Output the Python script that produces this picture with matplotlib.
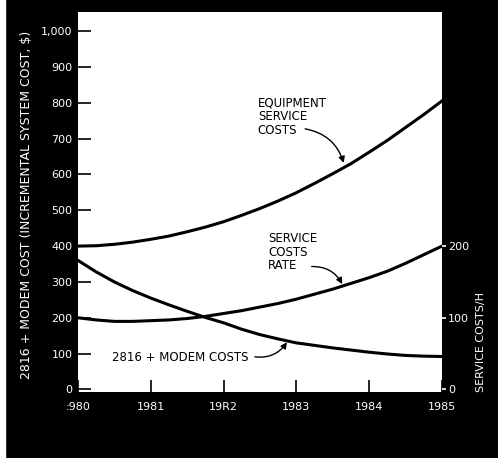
import matplotlib.pyplot as plt
import numpy as np

plt.rcParams['font.family'] = ['DejaVu Sans']

# values, every quarter year
years = [1980, 1980.25, 1980.5, 1980.75, 1981, 1981.25, 1981.5, 1981.75,
         1982, 1982.25, 1982.5, 1982.75, 1983, 1983.25, 1983.5, 1983.75,
         1984, 1984.25, 1984.5, 1984.75, 1985]
equipment_cost = [400, 401, 405, 411, 419, 428, 440, 453, 468, 486, 505,
                  526, 549, 575, 602, 630, 662, 695, 731, 767, 805]
modem_cost = [360, 328, 300, 276, 255, 236, 218, 201, 186, 168, 153,
              141, 130, 123, 116, 110, 104, 99, 95, 93, 92]
service_rate = [100, 97, 95, 95, 96, 97, 99, 102, 106, 110, 115,
                120, 126, 133, 140, 148, 156, 165, 176, 188, 200]  # right axis

year_ticks = [1980, 1981, 1982, 1983, 1984, 1985]
year_labels = [':980', '1981', '19R2', '1983', '1984', '1985']
cost_ticks = [0, 100, 200, 300, 400, 500, 600, 700, 800, 900, 1000]
cost_labels = ['0', '100', '200', '300', '400', '500', '600', '700', '800', '900', '1,000']
rate_ticks = [0, 100, 200]

fig = plt.figure(figsize=(4.98, 4.58), dpi=100, facecolor='black')
ax = fig.add_axes([78 / 498, 1 - 392 / 458, 364 / 498, 380 / 458])
ax.set_facecolor('white')

ax.plot(years, equipment_cost, color='black', lw=2.2)
ax.plot(years, modem_cost, color='black', lw=2.2)

ax.set_xlim(1980, 1985)
ax.set_ylim(-7, 1053)
for s in ax.spines.values():
    s.set_visible(False)

ax.set_xticks(year_ticks)
ax.set_xticklabels(year_labels)
ax.set_yticks(cost_ticks)
ax.set_yticklabels(cost_labels)
ax.tick_params(axis='x', direction='in', length=9, width=1.2, color='black',
               labelcolor='white', labelsize=8, pad=7)
ax.tick_params(axis='y', direction='in', length=9, width=1.2, color='black',
               labelcolor='white', labelsize=8, pad=4)

# right scale is half the left one
ax2 = ax.twinx()
ax2.set_ylim(-3.5, 526.5)
ax2.plot(years, service_rate, color='black', lw=2.2)
for s in ax2.spines.values():
    s.set_visible(False)
ax2.set_yticks(rate_ticks)
ax2.tick_params(axis='y', direction='out', length=3, width=1.2, color='white',
                labelcolor='white', labelsize=8, pad=1.5)

# callouts
txt = dict(fontsize=8.5, color='black', linespacing=1.05)
arrow = dict(arrowstyle='-|>', color='black', lw=1, shrinkA=0, shrinkB=0,
             mutation_scale=9)
ax.text(1982.47, 816, 'EQUIPMENT\nSERVICE\nCOSTS', va='top', ha='left', **txt)
ax.annotate('', xy=(1983.65, 632), xytext=(1983.12, 727),
            arrowprops=dict(connectionstyle='arc3,rad=-0.3', **arrow))
ax.text(1982.61, 439, 'SERVICE\nCOSTS\nRATE', va='top', ha='left', **txt)
ax.annotate('', xy=(1983.63, 294), xytext=(1983.21, 343),
            arrowprops=dict(connectionstyle='arc3,rad=-0.3', **arrow))
ax.text(1980.47, 88, '2816 + MODEM COSTS', va='center', ha='left', **txt)
ax.annotate('', xy=(1982.87, 132), xytext=(1982.43, 91),
            arrowprops=dict(connectionstyle='arc3,rad=0.3', **arrow))

fig.text(27 / 498, 1 - 205 / 458, '2816 + MODEM COST (INCREMENTAL SYSTEM COST, $)',
         rotation=90, color='white', fontsize=9, ha='center', va='center')
fig.text(481 / 498, 1 - 342 / 458, 'SERVICE COSTS/H', rotation=90, color='white',
         fontsize=8, ha='center', va='center')

# thin white strip along the left edge of the scan
fig.patches.append(plt.Rectangle((0, 0), 5 / 498, 1, transform=fig.transFigure,
                                 color='white', zorder=0))

fig.savefig('out.png', dpi=100, facecolor='black')
